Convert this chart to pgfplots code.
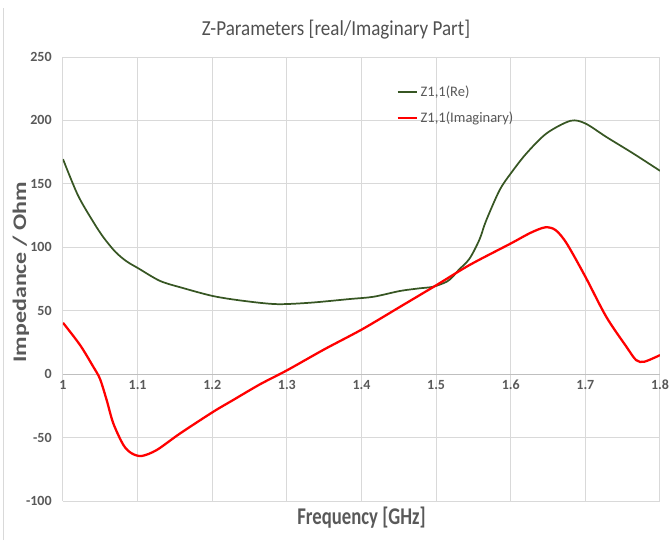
\documentclass[border=0pt]{standalone}
\usepackage{pgfplots}
\pgfplotsset{compat=1.18}
\usepackage{graphicx}
\usepackage{fontspec}
\setmainfont{Carlito}
\definecolor{txtgray}{HTML}{595959}
\definecolor{gridgray}{HTML}{D9D9D9}
\definecolor{axgray}{HTML}{BFBFBF}
\definecolor{regreen}{HTML}{375623}
\definecolor{imred}{HTML}{FF0000}

\pgfplotstableread{
f re
1.000 169.5
1.020 141
1.0406 120
1.054 108
1.070 96.5
1.085 89
1.101 83.4
1.130 73.5
1.160 68
1.2015 61.5
1.2415 57.8
1.286 55.2
1.331 56.3
1.384 59.2
1.416 61
1.451 65.5
1.477 67.6
1.496 68.9
1.514 72.8
1.5223 76.8
1.530 82
1.5447 91
1.558 106
1.567 121
1.585 145
1.600 158.2
1.621 174
1.648 189.8
1.680 199.7
1.700 197.6
1.728 187
1.764 174
1.800 160.3
}\reData

\pgfplotstableread{
f im
1.000 40.5
1.0228 23
1.0406 5.8
1.0496 -3.8
1.0585 -20.4
1.0674 -38.8
1.081 -55.9
1.092 -62.4
1.1054 -64.5
1.1256 -59.8
1.157 -46.7
1.2015 -29.6
1.228 -20.4
1.264 -8
1.3007 3.2
1.350 19.5
1.4007 35.3
1.450 52.5
1.5005 70.2
1.5447 86
1.600 103
1.6265 111.4
1.646 115.7
1.660 113.6
1.675 103
1.700 76.8
1.728 45.2
1.755 21.6
1.768 11.1
1.779 9.8
1.800 15
}\imData

\begin{document}
\begin{tikzpicture}[x=0.75pt,y=0.75pt]
\path[use as bounding box] (-63,-39) rectangle (607,501);
\draw[gridgray, line width=0.6pt] (-60,-39) -- (-60,493);
\node[text=txtgray!90!black, font=\fontsize{14.3}{16}\selectfont] at (273,471) {\scalebox{1}[1.12]{Z-Parameters [real/Imaginary Part]}};
\begin{axis}[
  at={(0,0)}, anchor=south west,
  scale only axis, width=447.75pt, height=333pt,
  xmin=1, xmax=1.8, ymin=-100, ymax=250,
  xtick={1,1.1,1.2,1.3,1.4,1.5,1.6,1.7,1.8},
  ytick={-100,-50,0,50,100,150,200,250},
  axis x line*=middle, axis y line*=left,
  x axis line style={draw=axgray, line width=0.75pt},
  y axis line style={draw=gridgray, line width=0.75pt},
  hide obscured x ticks=false, hide obscured y ticks=false,
  major tick length=0pt,
  grid=major, grid style={draw=gridgray, line width=0.75pt},
  /pgf/number format/assume math mode=true,
  ticklabel style={font=\fontsize{10.5}{12}\selectfont\bfseries, text=txtgray},
  yticklabel style={xshift=-5pt},
  xticklabel style={yshift=-1pt},
  every axis x label/.style={at={(axis description cs:0.5,-0.038)}, anchor=center, text=txtgray},
  every axis y label/.style={at={(axis description cs:-0.0704,0.515)}, anchor=center, rotate=90, text=txtgray},
  xlabel={\scalebox{0.78}[1]{\fontsize{18}{20}\selectfont\bfseries Frequency [GHz]}},
  ylabel={\scalebox{1}[0.8]{\fontsize{18}{20}\selectfont\bfseries Impedance / Ohm}},
  legend style={draw=none, fill=none, inner sep=0pt, at={(axis description cs:0.558,0.942)}, anchor=north west,
    font=\fontsize{10.9}{13}\selectfont, text=txtgray, row sep=6pt},
  legend cell align=left,
  legend image code/.code={\draw[#1] (0pt,0pt) -- (14.5pt,0pt);},
]
\addplot[regreen, line width=1.3pt, smooth] table[x=f, y=re] {\reData};
\addlegendentry{Z1,1(Re)}
\addplot[imred, line width=1.7pt, smooth] table[x=f, y=im] {\imData};
\addlegendentry{Z1,1(Imaginary)}
\end{axis}
\end{tikzpicture}
\end{document}
